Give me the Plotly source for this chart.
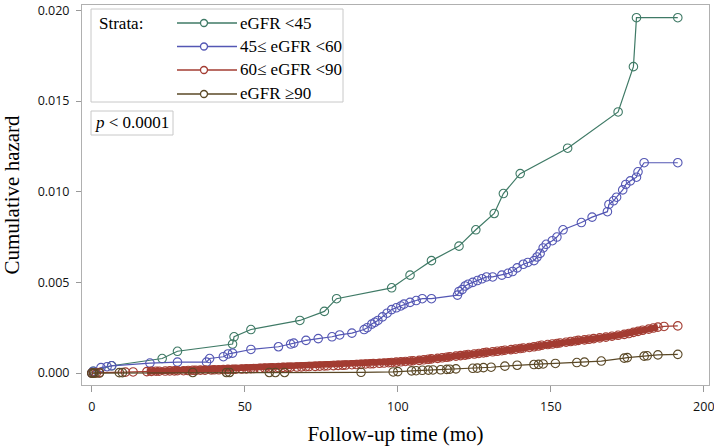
import plotly.graph_objects as go

# ---------------- data ----------------
strata_names = ["eGFR <45", "45\u2264 eGFR <60", "60\u2264 eGFR <90", "eGFR \u226590"]
strata_colors = ["#3f7a66", "#5457b4", "#a33c32", "#5a4826"]

green_time = [0, 0.5, 6.5, 23, 28, 46, 46.5, 52, 68, 76, 80, 98, 104, 111, 120,
              125.5, 131.5, 134.5, 140, 155.5, 172, 177, 178, 191.5]
green_hazard = [0, 0.0001, 0.0004, 0.0008, 0.0012, 0.0016, 0.0020, 0.0024, 0.0029,
                0.0034, 0.0041, 0.0047, 0.0054, 0.0062, 0.0070, 0.0079, 0.0088,
                0.0099, 0.0110, 0.0124, 0.0144, 0.0169, 0.0196, 0.0196]

blue_time = [0, 0.5, 3, 5, 6.5, 19, 28, 37.5, 38.5, 43, 44.5, 46, 52, 61, 65, 66,
             70, 74, 78.5, 81, 85, 89, 90, 91.5, 92.5, 93.5, 95, 96.5, 98, 99.5,
             101, 102, 104, 106, 108, 111, 119.5, 120, 121, 122, 123, 124.5, 126,
             127.5, 129, 131, 134, 136, 137.5, 139, 141, 142.5, 144.5, 145.5,
             146.5, 147.5, 148.5, 150.5, 152, 154, 160, 163.5, 168.5, 169, 170.5,
             171.5, 173.5, 174.5, 176, 178, 178.5, 180.5, 191.5]
blue_hazard = [0, 0.0001, 0.0003, 0.00035, 0.0004, 0.00055, 0.0006, 0.0006, 0.0008,
               0.0009, 0.00105, 0.0011, 0.0013, 0.00145, 0.0016, 0.00165, 0.0018,
               0.0019, 0.0020, 0.0021, 0.0022, 0.0024, 0.0025, 0.0027, 0.0028,
               0.0029, 0.0031, 0.0033, 0.0035, 0.0036, 0.0037, 0.0038, 0.0039,
               0.0040, 0.0041, 0.0041, 0.0043, 0.0045, 0.0046, 0.0048, 0.0049,
               0.0050, 0.0051, 0.0052, 0.0053, 0.0053, 0.0054, 0.0055, 0.0056,
               0.0058, 0.0060, 0.0061, 0.0062, 0.0064, 0.0066, 0.0069, 0.0071,
               0.0073, 0.0075, 0.0079, 0.0083, 0.0086, 0.0089, 0.0093, 0.0095,
               0.0097, 0.0101, 0.0104, 0.0106, 0.0108, 0.0111, 0.0116, 0.0116]

red_time = [0, 0.6, 1.5, 2.5, 11, 13.5, 18, 19.5, 21, 22, 24, 25.5, 27, 28, 30,
            31.5, 33, 34, 35.5, 37, 39, 40, 41.5, 43, 44.5, 46, 47, 49, 50.5, 52,
            53, 55, 56.5, 58, 59, 61, 62.5, 64, 65, 67, 68.5, 70, 71, 73, 74.5,
            76, 77, 79, 80.5, 82, 83, 85, 86.5, 88, 89.5, 91, 92, 94, 95.5, 97,
            98, 99.5, 101, 102.5, 104, 105, 107, 108.5, 110, 111, 113, 114.5, 116,
            117, 119, 120.5, 122, 123, 125, 126.5, 128, 129, 131, 132.5, 134, 135,
            137, 138.5, 140, 141, 143, 144.5, 146, 147, 149, 150.5, 152, 153, 155,
            156.5, 158, 159, 161, 162.5, 164, 166, 168, 170, 172, 174, 175.5, 177,
            178.5, 180, 182, 183.5, 185, 187, 191.5]
red_hazard = [0, 0, 0, 0.00002, 0.00005, 0.00006, 0.00008, 0.00009, 0.0001, 0.0001,
              0.00011, 0.00012, 0.00012, 0.00013, 0.00013, 0.00014, 0.00015,
              0.00015, 0.00016, 0.00016, 0.00017, 0.00018, 0.00018, 0.00019,
              0.0002, 0.0002, 0.00021, 0.00022, 0.00023, 0.00024, 0.00025,
              0.00026, 0.00027, 0.00028, 0.00029, 0.0003, 0.00031, 0.00031,
              0.00032, 0.00033, 0.00034, 0.00035, 0.00036, 0.00037, 0.00038,
              0.00039, 0.0004, 0.00041, 0.00042, 0.00043, 0.00044, 0.00046,
              0.00047, 0.00048, 0.0005, 0.00051, 0.00052, 0.00054, 0.00055,
              0.00057, 0.00058, 0.0006, 0.00062, 0.00064, 0.00066, 0.00068,
              0.0007, 0.00073, 0.00076, 0.00078, 0.00081, 0.00084, 0.00087,
              0.0009, 0.00093, 0.00096, 0.00099, 0.00102, 0.00105, 0.00108,
              0.00111, 0.00114, 0.00117, 0.0012, 0.00123, 0.00126, 0.00129,
              0.00132, 0.00135, 0.00138, 0.00141, 0.00145, 0.00149, 0.00153,
              0.00157, 0.0016, 0.00163, 0.00166, 0.0017, 0.00174, 0.00177,
              0.0018, 0.00183, 0.00186, 0.0019, 0.00194, 0.00198, 0.00203,
              0.00208, 0.00213, 0.00218, 0.00224, 0.0023, 0.00236, 0.00242,
              0.00248, 0.00253, 0.00257, 0.0026, 0.00262]
red_dense_from = 18      # months from which the red markers merge into a solid band
red_dense_to = 185

brown_time = [0, 0.5, 1, 2.5, 9, 10, 33, 44, 45, 58, 60, 63, 88, 98.5, 100, 104.5,
              106, 108, 110, 111.5, 114, 116, 117, 119, 124.5, 126, 128, 130.5,
              135, 139, 144.5, 146, 147.5, 151.5, 158.5, 161, 166.5, 174, 175,
              180.5, 181.5, 185, 191.5]
brown_hazard = [0, 0, 0, 0, 0.00002, 0.00002, 0.00003, 0.00003, 0.00003, 0.00003,
                0.00003, 0.00003, 0.00004, 0.00006, 0.00008, 0.00012, 0.00013,
                0.00015, 0.00016, 0.00017, 0.00018, 0.0002, 0.00021, 0.00023,
                0.00026, 0.00027, 0.0003, 0.00032, 0.00038, 0.00043, 0.00047,
                0.00048, 0.0005, 0.00053, 0.00058, 0.0006, 0.00066, 0.00082,
                0.00085, 0.00093, 0.00095, 0.001, 0.00103]

x_ticks = [0, 50, 100, 150, 200]
y_ticks = [0.000, 0.005, 0.010, 0.015, 0.020]
y_ticklabels = ["0.000", "0.005", "0.010", "0.015", "0.020"]
p_text = "<i>p</i> < 0.0001"

# ---------------- figure ----------------
W, H = 714, 446
L, R, T, B = 82, 5, 5, 61
PW, PH = W - L - R, H - T - B

def px_x(px):
    return (px - L) / PW

def px_y(py):
    return (H - B - py) / PH

SERIF = "Liberation Serif, Times New Roman, serif"
SANS = "Open Sans, Noto Sans, sans-serif"

fig = go.Figure()
series = [(green_time, green_hazard), (blue_time, blue_hazard),
          (red_time, red_hazard), (brown_time, brown_hazard)]
for i, ((t, h), name, col) in enumerate(zip(series, strata_names, strata_colors)):
    if i == 2:
        # the overlapping markers of this stratum form a solid band
        seg = [(a, b) for a, b in zip(t, h) if red_dense_from <= a <= red_dense_to]
        fig.add_trace(go.Scatter(
            x=[a for a, _ in seg], y=[b for _, b in seg], mode="lines",
            showlegend=False, hoverinfo="skip",
            line=dict(color=col, width=6.5)))
    fig.add_trace(go.Scatter(
        x=t, y=h, mode="lines+markers", name=name, showlegend=False,
        line=dict(color=col, width=1.2),
        marker=dict(symbol="circle-open", size=8.5, color=col, line=dict(width=1.1)),
    ))

shapes = []
annotations = []
# legend box
shapes.append(dict(type="rect", xref="paper", yref="paper",
                   x0=px_x(91), x1=px_x(343), y0=px_y(102), y1=px_y(9),
                   line=dict(color="#c8c8c8", width=1), fillcolor="white", layer="above"))
annotations.append(dict(text="Strata:", xref="paper", yref="paper", x=px_x(97), y=px_y(23),
                        xanchor="left", yanchor="middle", showarrow=False,
                        font=dict(family=SERIF, size=17, color="black")))
rows = [23, 46.5, 70, 94]
for ry, name, col in zip(rows, strata_names, strata_colors):
    shapes.append(dict(type="line", xref="paper", yref="paper",
                       x0=px_x(177), x1=px_x(237), y0=px_y(ry), y1=px_y(ry),
                       line=dict(color=col, width=1.3), layer="above"))
    shapes.append(dict(type="circle", xref="paper", yref="paper",
                       xsizemode="pixel", ysizemode="pixel",
                       xanchor=px_x(204), yanchor=px_y(ry),
                       x0=-3.5, x1=3.5, y0=-3.5, y1=3.5,
                       line=dict(color=col, width=1.3), fillcolor="white", layer="above"))
    annotations.append(dict(text=name, xref="paper", yref="paper", x=px_x(238), y=px_y(ry),
                            xanchor="left", yanchor="middle", showarrow=False,
                            font=dict(family=SERIF, size=17, color="black")))
# p-value box
shapes.append(dict(type="rect", xref="paper", yref="paper",
                   x0=px_x(91), x1=px_x(173), y0=px_y(135), y1=px_y(111),
                   line=dict(color="#c8c8c8", width=1), fillcolor="white", layer="above"))
annotations.append(dict(text=p_text, xref="paper", yref="paper", x=px_x(132), y=px_y(123),
                        xanchor="center", yanchor="middle", showarrow=False,
                        font=dict(family=SERIF, size=17, color="black")))

fig.update_layout(
    width=W, height=H,
    margin=dict(l=L, r=R, t=T, b=B),
    paper_bgcolor="white", plot_bgcolor="white",
    shapes=shapes, annotations=annotations,
    showlegend=False,
    xaxis=dict(range=[-3.2, 201.7], tickvals=x_ticks, ticks="outside", ticklen=6,
               tickcolor="#999999", showline=True, mirror=True, linecolor="#b0b0b0",
               linewidth=1, showgrid=False, zeroline=False, automargin=False,
               tickfont=dict(family=SANS, size=12.5, color="#111111"),
               ticklabelstandoff=4, ticklabeloverflow="allow",
               title=dict(text="Follow-up time (mo)", standoff=14,
                          font=dict(family=SERIF, size=21, color="black"))),
    yaxis=dict(range=[-0.00066, 0.0203], tickvals=y_ticks, ticktext=y_ticklabels,
               ticks="outside", ticklen=5, tickcolor="#999999", showline=True,
               mirror=True, linecolor="#b0b0b0", linewidth=1, showgrid=False,
               zeroline=False, automargin=False,
               tickfont=dict(family=SANS, size=12.5, color="#111111"),
               ticklabelstandoff=4, ticklabeloverflow="allow",
               title=dict(text="Cumulative hazard", standoff=12,
                          font=dict(family=SERIF, size=21, color="black"))),
)

fig.write_html("out.html", config={"displayModeBar": False},
               post_script="document.body.style.margin='0';document.body.style.overflow='hidden';")
